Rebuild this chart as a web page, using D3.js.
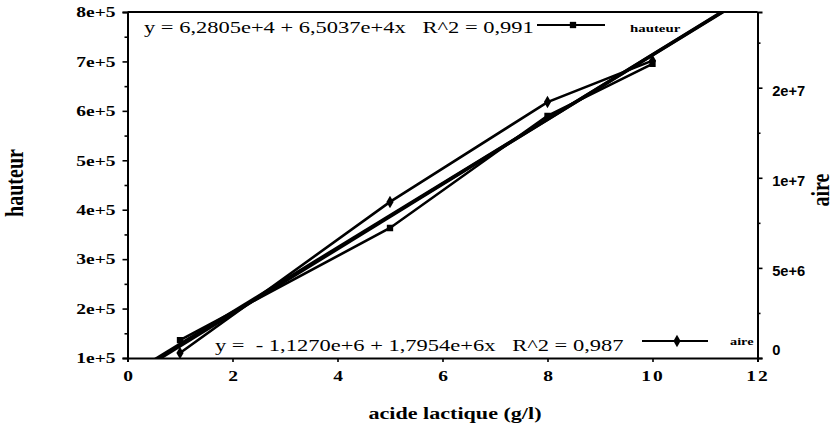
<!DOCTYPE html>
<html>
<head>
<meta charset="utf-8">
<script src="https://cdn.jsdelivr.net/npm/d3@7"></script>
<style>
  html, body { margin: 0; padding: 0; background: #fff; }
  svg { display: block; }
  text { fill: #000; white-space: pre; }
</style>
</head>
<body>
<svg id="chart" width="839" height="432"></svg>
<script>
// Lactic acid calibration: peak height and peak area vs concentration
const concentrations = [1, 5, 8, 10];                      // g/l
const hauteur = [136000, 363000, 590000, 695000];          // peak height
const aire = [280000, 8660000, 14200000, 16500000];        // peak area

// Linear fits: [intercept, slope], with R^2
const hauteurFit = [6.2805e4, 6.5037e4];
const hauteurR2 = "0,991";
const aireFit = [-1.1270e6, 1.7954e6];
const aireR2 = "0,987";

// Axis ticks
const xTicks = [0, 2, 4, 6, 8, 10, 12];
const hauteurTicks = [1e5, 2e5, 3e5, 4e5, 5e5, 6e5, 7e5, 8e5];
const hauteurTickLabels = ["1e+5", "2e+5", "3e+5", "4e+5", "5e+5", "6e+5", "7e+5", "8e+5"];
const aireTicks = [0, 5e6, 1e7, 1.5e7];
const aireTickLabels = ["0", "5e+6", "1e+7", "2e+7"];

const SX = 1.3; // horizontal glyph stretch of the printed figure
const serif = '"Liberation Serif", "Times New Roman", Times, "DejaVu Serif", serif';
const sans = '"Liberation Sans", Arial, Helvetica, sans-serif';

const svg = d3.select("#chart");
const L = 127.5, R = 757.5, T = 12, B = 358;

const x = d3.scaleLinear().domain([0, 12]).range([L, R]);
const yH = d3.scaleLinear().domain([1e5, 8e5]).range([B, T]);
const yA = d3.scaleLinear().domain([0, 1.92e7]).range([B, T]);

svg.append("defs").append("clipPath").attr("id", "plot")
  .append("rect").attr("x", L).attr("y", T).attr("width", R - L).attr("height", B - T);

function serifStyle(sel, size, weight) {
  sel.attr("font-family", null)
    .style("font-family", serif).style("font-size", size + "px")
    .style("font-weight", weight || "normal");
}

// Left axis (hauteur)
const gL = svg.append("g").attr("transform", `translate(${L},0)`)
  .call(d3.axisLeft(yH).tickValues(hauteurTicks).tickSize(5)
    .tickFormat((d, i) => hauteurTickLabels[i]));
gL.attr("font-family", null).attr("font-size", null);
gL.selectAll("text")
  .attr("x", -12 / SX).attr("transform", `scale(${SX},1)`)
  .call(serifStyle, 15, "bold");
svg.append("g").attr("transform", `translate(${L},0)`)
  .call(d3.axisLeft(yH).tickValues(d3.range(1.5e5, 8e5, 1e5)).tickSize(3).tickFormat(""))
  .call(g => g.select(".domain").remove());

// Right axis (aire)
const gR = svg.append("g").attr("transform", `translate(${R},0)`)
  .call(d3.axisRight(yA).tickValues(aireTicks).tickSize(5)
    .tickFormat((d, i) => aireTickLabels[i]));
gR.attr("font-family", null).attr("font-size", null);
gR.selectAll("text")
  .attr("x", 14).attr("dy", (d, i) => i === 0 ? "-0.25em" : "0.55em")
  .attr("transform", "scale(1.05,1)")
  .style("font-family", sans).style("font-weight", "bold").style("font-size", "14px");
svg.append("g").attr("transform", `translate(${R},0)`)
  .call(d3.axisRight(yA).tickValues([2.5e6, 7.5e6, 1.25e7, 1.75e7]).tickSize(3).tickFormat(""))
  .call(g => g.select(".domain").remove());

// Bottom axis; labels drawn with the same horizontal stretch, centred on ticks
const gB = svg.append("g").attr("transform", `translate(0,${B})`)
  .call(d3.axisBottom(x).tickValues(xTicks).tickSize(4).tickFormat(d3.format("d")));
gB.attr("font-family", null).attr("font-size", null);
gB.selectAll(".tick text")
  .attr("y", 12)
  .attr("transform", `scale(${SX},1)`)
  .style("letter-spacing", d => d >= 10 ? "1.5px" : "0px")
  .call(serifStyle, 15, "bold");

// Frame top edge
svg.append("line").attr("x1", L).attr("x2", R).attr("y1", T).attr("y2", T)
  .attr("stroke", "#000").attr("stroke-width", 2);

svg.selectAll(".domain").attr("stroke-width", 2);
svg.selectAll(".tick line").attr("stroke-width", 1.6);

// Fitted lines
const plot = svg.append("g").attr("clip-path", "url(#plot)");
const fitLine = (fit, y) => d3.line().x(d => x(d)).y(d => y(fit[0] + fit[1] * d));
plot.append("path").datum([0, 12]).attr("d", fitLine(hauteurFit, yH))
  .attr("fill", "none").attr("stroke", "#000").attr("stroke-width", 3.4);
plot.append("path").datum([0, 12]).attr("d", fitLine(aireFit, yA))
  .attr("fill", "none").attr("stroke", "#000").attr("stroke-width", 3.4);

// Measured series
const hLine = d3.line().x((d, i) => x(concentrations[i])).y(d => yH(d));
const aLine = d3.line().x((d, i) => x(concentrations[i])).y(d => yA(d));
plot.append("path").datum(hauteur).attr("d", hLine)
  .attr("fill", "none").attr("stroke", "#000").attr("stroke-width", 2.6);
plot.append("path").datum(aire).attr("d", aLine)
  .attr("fill", "none").attr("stroke", "#000").attr("stroke-width", 2.6);

const square = d3.symbol().type(d3.symbolSquare).size(40);
const diamond = d3.symbol().type(d3.symbolDiamond).size(45);
plot.selectAll(".hpt").data(hauteur).join("path").attr("class", "hpt")
  .attr("transform", (d, i) => `translate(${x(concentrations[i])},${yH(d)})`)
  .attr("d", square).attr("fill", "#000");
plot.selectAll(".apt").data(aire).join("path").attr("class", "apt")
  .attr("transform", (d, i) => `translate(${x(concentrations[i])},${yA(d)})`)
  .attr("d", diamond).attr("fill", "#000");

// Equations
const fmt = v => v.toExponential(4).replace(".", ",").replace(/e\+?(-?)/, (m, s) => "e" + (s ? "-" : "+"));
const eq = (fit, r2) => "y = " + (fit[0] < 0 ? " - " : "") + fmt(Math.abs(fit[0])) +
  " + " + fmt(fit[1]) + "x   R^2 = " + r2;

function stretchedText(px, py, str, size, weight, anchor, sx) {
  return svg.append("text")
    .attr("transform", `translate(${px},${py}) scale(${sx},1)`)
    .attr("text-anchor", anchor || "start")
    .call(serifStyle, size, weight)
    .text(str);
}
stretchedText(144, 33, eq(hauteurFit, hauteurR2), 17.3, "normal", "start", SX);
stretchedText(215, 351, eq(aireFit, aireR2), 17.3, "normal", "start", SX);

// Legend entries
svg.append("line").attr("x1", 537).attr("x2", 605).attr("y1", 25).attr("y2", 25)
  .attr("stroke", "#000").attr("stroke-width", 1.8);
svg.append("path").attr("transform", "translate(573,25)").attr("d", square).attr("fill", "#000");
stretchedText(630, 32, "hauteur", 11.4, "bold", "start", SX);

svg.append("line").attr("x1", 642).attr("x2", 708).attr("y1", 341).attr("y2", 341)
  .attr("stroke", "#000").attr("stroke-width", 1.8);
svg.append("path").attr("transform", "translate(677,341)").attr("d", diamond).attr("fill", "#000");
stretchedText(730, 345, "aire", 11, "bold", "start", SX);

// Axis titles
svg.append("text")
  .attr("transform", `translate(23,183) rotate(-90) scale(1,${SX})`)
  .attr("text-anchor", "middle")
  .call(serifStyle, 20, "bold")
  .text("hauteur");
svg.append("text")
  .attr("transform", `translate(829,190) rotate(-90) scale(1,${SX})`)
  .attr("text-anchor", "middle")
  .call(serifStyle, 20, "bold")
  .text("aire");
stretchedText(455, 419, "acide lactique (g/l)", 17, "bold", "middle", SX);
</script>
</body>
</html>
